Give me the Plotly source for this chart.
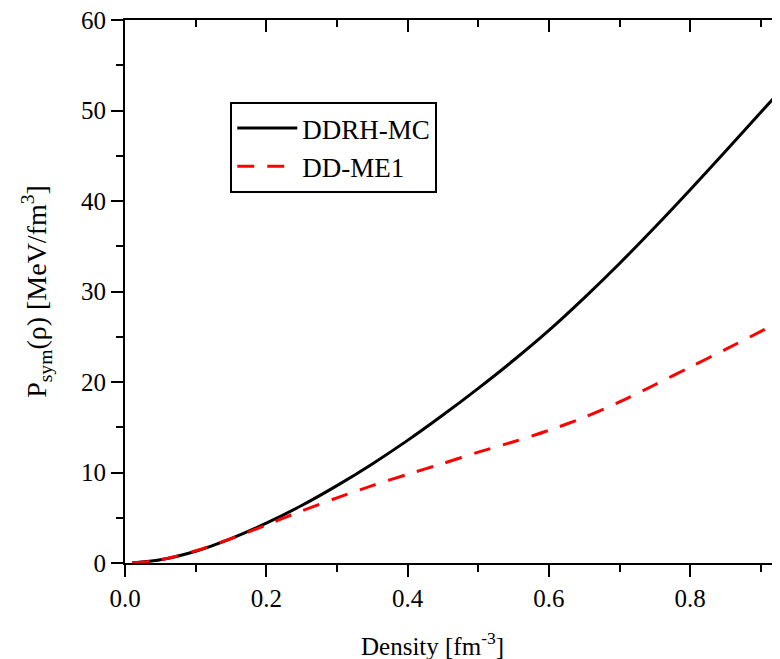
import plotly.graph_objects as go

density = [0.01, 0.05, 0.1, 0.15, 0.2, 0.25, 0.3, 0.35, 0.4, 0.45, 0.5,
           0.55, 0.6, 0.65, 0.7, 0.75, 0.8, 0.85, 0.9, 0.94]
ddrh_mc = [0.0, 0.35, 1.3, 2.7, 4.4, 6.35, 8.55, 10.95, 13.55, 16.35, 19.3,
           22.4, 25.7, 29.3, 33.1, 37.1, 41.25, 45.5, 49.8, 53.25]
dd_me1 = [0.0, 0.35, 1.35, 2.7, 4.2, 5.75, 7.2, 8.55, 9.8, 11.0, 12.25,
          13.4, 14.65, 16.1, 17.8, 19.7, 21.65, 23.6, 25.6, 27.2]

FONT = "Liberation Serif, Times New Roman, serif"
X_RANGE = [0, 0.937]
Y_RANGE = [0, 60]

fig = go.Figure()
fig.add_trace(go.Scatter(x=density, y=ddrh_mc, mode="lines", name="DDRH-MC",
                         line=dict(color="black", width=3, shape="spline", smoothing=0.8)))
fig.add_trace(go.Scatter(x=density, y=dd_me1, mode="lines", name="DD-ME1",
                         line=dict(color="#ff0000", width=3, dash="17px,13px",
                                   shape="spline", smoothing=0.8)))
# invisible trace for mirrored top/right axes
fig.add_trace(go.Scatter(x=[density[0]], y=[ddrh_mc[0]], xaxis="x2", yaxis="y2",
                         mode="markers", marker=dict(opacity=0), showlegend=False,
                         hoverinfo="skip"))

line_common = dict(showgrid=False, zeroline=False, showline=True, linecolor="black",
                   linewidth=2, tickcolor="black", tickwidth=2, automargin=False,
                   ticklabeloverflow="allow")
tickfont = dict(family=FONT, size=25, color="black")

fig.update_layout(
    width=780, height=659,
    margin=dict(l=117, r=1, t=12, b=104),
    plot_bgcolor="white", paper_bgcolor="white",
    font=dict(family=FONT, color="black"),
    xaxis=dict(range=X_RANGE, tickvals=[0, 0.2, 0.4, 0.6, 0.8],
               ticktext=["0.0", "0.2", "0.4", "0.6", "0.8"],
               ticks="outside", ticklen=12, tickfont=tickfont,
               minor=dict(dtick=0.1, tick0=0, ticks="outside", ticklen=7,
                          tickcolor="black", tickwidth=2),
               **line_common),
    yaxis=dict(range=Y_RANGE, dtick=10, ticks="outside", ticklen=12, tickfont=tickfont,
               minor=dict(dtick=5, ticks="outside", ticklen=7,
                          tickcolor="black", tickwidth=2),
               title=dict(text="P<sub>sym</sub>(\u03c1) [MeV/fm<sup>3</sup>]",
                          font=dict(family=FONT, size=28), standoff=26),
               **line_common),
    xaxis2=dict(range=X_RANGE, overlaying="x", side="top", anchor="y",
                tickvals=[0, 0.2, 0.4, 0.6, 0.8], showticklabels=False,
                ticks="inside", ticklen=12,
                minor=dict(dtick=0.1, tick0=0, ticks="inside", ticklen=7,
                           tickcolor="black", tickwidth=2),
                **line_common),
    yaxis2=dict(range=Y_RANGE, overlaying="y", side="right", anchor="x",
                dtick=10, showticklabels=False, ticks="inside", ticklen=12,
                minor=dict(dtick=5, ticks="inside", ticklen=7,
                           tickcolor="black", tickwidth=2),
                **line_common),
    legend=dict(x=0.159, y=0.849, xanchor="left", yanchor="top",
                bordercolor="black", borderwidth=2, bgcolor="white",
                font=dict(family=FONT, size=27, color="black"),
                tracegroupgap=0, itemwidth=60),
    showlegend=True,
    annotations=[dict(text="Density [fm<sup>-3</sup>]", xref="paper", yref="paper",
                      x=0.464, y=-0.149, xanchor="center", yanchor="middle",
                      showarrow=False, font=dict(family=FONT, size=25, color="black"))],
)

fig.write_html("out.html")
